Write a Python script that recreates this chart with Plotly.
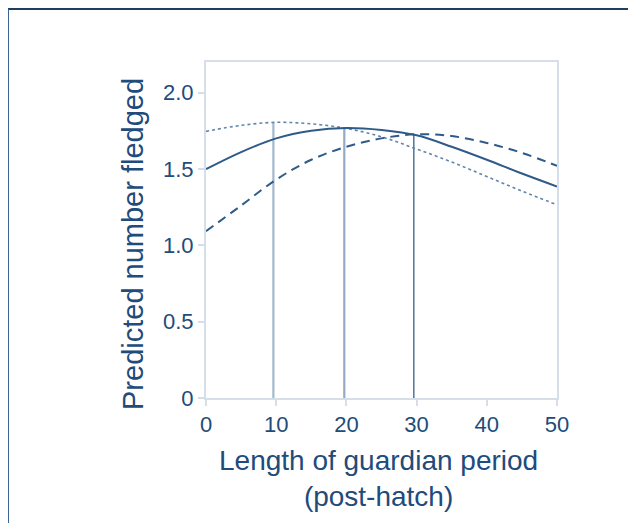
import plotly.graph_objects as go

guard_days = [0, 5, 10, 15, 20, 25, 30, 35, 40, 45, 50]
dotted_vals = [1.746, 1.785, 1.805, 1.795, 1.765, 1.71, 1.63, 1.545, 1.45, 1.355, 1.265]
solid_vals = [1.498, 1.61, 1.70, 1.75, 1.768, 1.755, 1.72, 1.645, 1.56, 1.47, 1.385]
dashed_vals = [1.092, 1.26, 1.43, 1.56, 1.645, 1.70, 1.727, 1.715, 1.67, 1.605, 1.52]

peak_x = [9.6, 19.7, 29.6]
peak_y = [1.805, 1.768, 1.728]

y_tickvals = [0, 0.5, 1.0, 1.5, 2.0]
y_ticktext = ["0", "0.5", "1.0", "1.5", "2.0"]
x_tickvals = [0, 10, 20, 30, 40, 50]

x_title = "Length of guardian period<br>(post-hatch)"
y_title = "Predicted number fledged"

line_col = "#2e5b88"
text_col = "#214b7a"
axis_col = "#d6dfe9"

fig = go.Figure()

vcols = ["#a3b8cd", "#94abc3", "#5d7c9c"]
vwidths = [2.2, 2.2, 1.6]
for px, py, c, w in zip(peak_x, peak_y, vcols, vwidths):
    fig.add_trace(go.Scatter(x=[px, px], y=[0, py], mode="lines",
                             line=dict(color=c, width=w), showlegend=False, hoverinfo="skip"))

fig.add_trace(go.Scatter(x=guard_days, y=dotted_vals, mode="lines", line_shape="spline",
                         line=dict(color="#6385ab", width=1.6, dash="dot"), showlegend=False))
fig.add_trace(go.Scatter(x=guard_days, y=solid_vals, mode="lines", line_shape="spline",
                         line=dict(color=line_col, width=2), showlegend=False))
fig.add_trace(go.Scatter(x=guard_days, y=dashed_vals, mode="lines", line_shape="spline",
                         line=dict(color=line_col, width=2, dash="9px,6px"), showlegend=False))

fig.update_layout(
    width=636, height=523,
    margin=dict(l=198, r=87, t=54, b=133),
    paper_bgcolor="white", plot_bgcolor="white",
    font=dict(family="Liberation Sans, Arial, sans-serif", color=text_col),
    showlegend=False,
    xaxis=dict(range=[0, 50], tickvals=x_tickvals, showgrid=False, zeroline=False,
               showline=True, linecolor=axis_col, linewidth=2, mirror=True,
               ticks="outside", tickcolor=axis_col, ticklen=6, tickwidth=2,
               tickfont=dict(size=22, color=text_col)),
    yaxis=dict(range=[0, 2.2], tickvals=y_tickvals, ticktext=y_ticktext, showgrid=False,
               zeroline=False, showline=True, linecolor=axis_col, linewidth=2, mirror=True,
               ticks="outside", tickcolor=axis_col, ticklen=6, tickwidth=2,
               tickfont=dict(size=22, color=text_col)),
)

fig.add_annotation(text=y_title, xref="paper", yref="paper", x=(133 - 206) / 351,
                   y=(398 - 244) / 336, textangle=-90, showarrow=False,
                   xanchor="center", yanchor="middle", font=dict(size=29, color=text_col))
fig.add_annotation(text=x_title, xref="paper", yref="paper", x=(378 - 206) / 351,
                   y=(398 - 478) / 336, showarrow=False, xanchor="center", yanchor="middle",
                   font=dict(size=28, color=text_col))

# outer frame lines (top and left)
fig.add_shape(type="line", xref="paper", yref="paper", x0=(8 - 206) / 351, x1=(640 - 206) / 351,
              y0=(398 - 9) / 336, y1=(398 - 9) / 336, line=dict(color="#1d3f66", width=2))
fig.add_shape(type="line", xref="paper", yref="paper", x0=(8 - 206) / 351, x1=(8 - 206) / 351,
              y0=(398 - 9) / 336, y1=(398 - 530) / 336, line=dict(color="#3a6592", width=2))

fig.write_html("out.html")
